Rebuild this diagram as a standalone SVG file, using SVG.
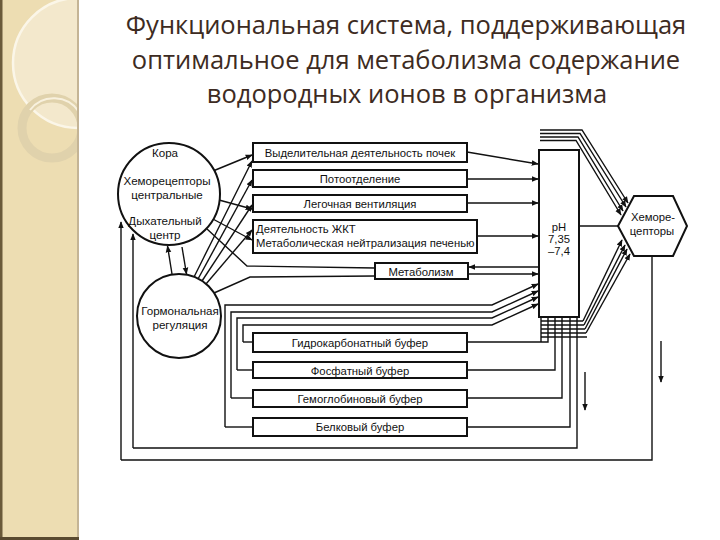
<svg xmlns="http://www.w3.org/2000/svg" width="720" height="540" viewBox="0 0 720 540">
<defs>
<marker id="ah" viewBox="0 0 10 10" refX="9" refY="5" markerWidth="7" markerHeight="7" markerUnits="userSpaceOnUse" orient="auto">
<path d="M0,1 L10,5 L0,9 Z" fill="#111"/>
</marker>
<clipPath id="panel"><rect x="0" y="0" width="79" height="540"/></clipPath>
<style>
.t{font-family:"Open Sans","Liberation Sans",sans-serif;font-size:25.5px;fill:#3d2b22;text-anchor:middle}
.lb{font-family:"Liberation Sans",Arial,sans-serif;font-size:11.3px;fill:#111;text-anchor:middle}
.cl{font-size:11.6px}
.bx{fill:#fff;stroke:#111;stroke-width:2}
.cn{fill:none;stroke:#111;stroke-width:1.4}
.ar{fill:none;stroke:#111;stroke-width:1.4;marker-end:url(#ah)}
</style>
</defs>
<rect width="720" height="540" fill="#fff"/>
<g id="panel-bg" clip-path="url(#panel)">
<rect x="0" y="0" width="79" height="540" fill="#EDDDB2"/>
<circle cx="78" cy="63" r="65" fill="#F3E8CC" stroke="#FBF6E8" stroke-width="2.5"/>
<circle cx="52" cy="128" r="30" fill="none" stroke="#E0D2AC" stroke-width="9"/>
<path d="M30,110 A30,30 0 0 1 79,112" fill="none" stroke="#F8F1DE" stroke-width="2"/>
<rect x="0" y="0" width="2.5" height="540" fill="#6b5a3a"/>
<rect x="77" y="0" width="2" height="540" fill="#c4b495"/>
<rect x="0" y="537" width="79" height="3" fill="#5a4a30"/>
</g>
<g id="title">
<text class="t" x="406" y="34">Функциональная система, поддерживающая</text>
<text class="t" x="406" y="69">оптимальное для метаболизма содержание</text>
<text class="t" x="407" y="103">водородных ионов в организма</text>
</g>
<g id="connectors">
<line class="ar" x1="172" y1="274" x2="167.5" y2="246"/>
<line class="ar" x1="182" y1="247" x2="186.5" y2="274"/>
<line class="ar" x1="153" y1="172" x2="153" y2="161"/>
<line class="ar" x1="178" y1="172" x2="178" y2="161"/>
<line class="ar" x1="153" y1="214" x2="153" y2="202"/>
<line class="ar" x1="178" y1="214" x2="178" y2="202"/>
<line class="ar" x1="213" y1="171" x2="252" y2="155"/>
<line class="ar" x1="219" y1="200" x2="252" y2="209"/>
<line class="ar" x1="211" y1="218" x2="252" y2="240"/>
<polyline class="cn" points="207,229 247,266 375,268"/>
<line class="ar" x1="194" y1="277" x2="252" y2="161"/>
<line class="ar" x1="198" y1="279" x2="252" y2="180"/>
<line class="ar" x1="202" y1="281" x2="252" y2="205"/>
<line class="ar" x1="206" y1="284" x2="252" y2="230"/>
<polyline class="cn" points="214,293 250,277 375,276"/>
<line class="ar" x1="467" y1="152" x2="538" y2="164"/>
<line class="ar" x1="467" y1="179" x2="538" y2="179"/>
<line class="ar" x1="467" y1="203" x2="538" y2="203"/>
<line class="ar" x1="477" y1="236" x2="538" y2="236"/>
<line class="ar" x1="539" y1="267" x2="469" y2="267"/>
<line class="ar" x1="468" y1="274" x2="538" y2="274"/>
<polyline class="ar" points="225,427 225,305 492,305 538,284"/>
<polyline class="ar" points="231,398 231,312 492,312 538,291"/>
<polyline class="ar" points="237,370 237,318 492,318 538,297"/>
<polyline class="ar" points="243,342 243,325 492,325 538,304"/>
<line class="cn" x1="225" y1="427" x2="253" y2="427"/>
<line class="cn" x1="231" y1="398" x2="253" y2="398"/>
<line class="cn" x1="237" y1="370" x2="253" y2="370"/>
<line class="cn" x1="243" y1="342" x2="253" y2="342"/>
<polyline class="cn" points="467,342 548,342 548,317"/>
<polyline class="cn" points="467,370 555,370 555,317"/>
<polyline class="cn" points="467,398 562,398 562,317"/>
<polyline class="cn" points="467,427 570,427 570,317"/>
<polyline class="cn" points="577,317 577,448 133,448"/>
<line class="ar" x1="133" y1="448" x2="133" y2="234"/>
<polyline class="cn" points="652,256 652,460 121,460"/>
<line class="ar" x1="121" y1="460" x2="121" y2="222"/>
<line class="cn" x1="541" y1="321" x2="583" y2="321"/>
<line class="cn" x1="541" y1="325" x2="584" y2="325"/>
<line class="cn" x1="541" y1="329" x2="585" y2="329"/>
<line class="cn" x1="541" y1="333" x2="586" y2="333"/>
<line class="cn" x1="541" y1="337" x2="587" y2="337"/>
<line class="cn" x1="541" y1="317" x2="541" y2="342"/>
<line class="ar" x1="583" y1="321" x2="622" y2="240"/>
<line class="ar" x1="584" y1="325" x2="625" y2="245"/>
<line class="ar" x1="585" y1="329" x2="627" y2="249"/>
<line class="ar" x1="586" y1="333" x2="630" y2="254"/>
<polyline class="ar" points="540,130 582,130 628,203"/>
<polyline class="ar" points="540,133.5 580,133.5 626,207"/>
<polyline class="ar" points="540,137 578,137 623,211"/>
<polyline class="ar" points="540,140.5 576,140.5 621,215"/>
<line class="cn" x1="579" y1="226" x2="618" y2="226"/>
<line class="ar" x1="585" y1="372" x2="585" y2="410"/>
<line class="ar" x1="661" y1="341" x2="661" y2="382"/>
</g>
<g id="n-cns">
<circle class="bx" cx="169" cy="194" r="51"/>
<text class="lb cl" x="165" y="157">Кора</text>
<text class="lb cl" x="167" y="184.5">Хеморецепторы</text>
<text class="lb cl" x="167" y="198.5" font-size="11.2">центральные</text>
<text class="lb cl" x="165" y="224.5">Дыхательный</text>
<text class="lb cl" x="165" y="238.5">центр</text>
</g>
<g id="n-hormone">
<circle class="bx" cx="179" cy="316" r="42"/>
<text class="lb cl" x="180" y="315">Гормональная</text>
<text class="lb cl" x="180" y="329">регуляция</text>
</g>
<g id="n-kidney"><rect class="bx" x="253" y="143" width="214" height="19"/><text class="lb" x="360" y="156.5">Выделительная деятельность почек</text></g>
<g id="n-sweat"><rect class="bx" x="253" y="170" width="214" height="17"/><text class="lb" x="360" y="182.5">Потоотделение</text></g>
<g id="n-lung"><rect class="bx" x="253" y="195" width="214" height="17"/><text class="lb" x="360" y="207.5">Легочная вентиляция</text></g>
<g id="n-git"><rect class="bx" x="253" y="220" width="224" height="33"/>
<text class="lb" x="256" y="233" style="text-anchor:start" font-size="11.7">Деятельность ЖКТ</text>
<text class="lb" x="256" y="247" style="text-anchor:start" font-size="11.7">Метаболическая нейтрализация печенью</text></g>
<g id="n-metab"><rect class="bx" x="375" y="263" width="93" height="16"/><text class="lb" x="421" y="275.5">Метаболизм</text></g>
<g id="n-bicarb"><rect class="bx" x="253" y="333" width="214" height="19"/><text class="lb" x="360" y="346.5">Гидрокарбонатный буфер</text></g>
<g id="n-phos"><rect class="bx" x="253" y="362" width="214" height="16"/><text class="lb" x="360" y="374.5">Фосфатный буфер</text></g>
<g id="n-hb"><rect class="bx" x="253" y="390" width="214" height="17"/><text class="lb" x="360" y="402.5">Гемоглобиновый буфер</text></g>
<g id="n-prot"><rect class="bx" x="253" y="418" width="214" height="18"/><text class="lb" x="360" y="431">Белковый буфер</text></g>
<g id="n-ph"><rect class="bx" x="539" y="150" width="40" height="167"/>
<text class="lb" x="559" y="231" font-size="12.5">pH</text>
<text class="lb" x="559" y="243" font-size="11.5">7,35</text>
<text class="lb" x="559" y="255" font-size="11.5">–7,4</text></g>
<g id="n-chemo"><polygon class="bx" points="618,226 634,196 673,196 687,226 673,256 634,256"/>
<text class="lb" x="653" y="221" font-size="11.5">Хеморе-</text>
<text class="lb" x="652" y="235" font-size="11.5">цепторы</text></g>
</svg>
